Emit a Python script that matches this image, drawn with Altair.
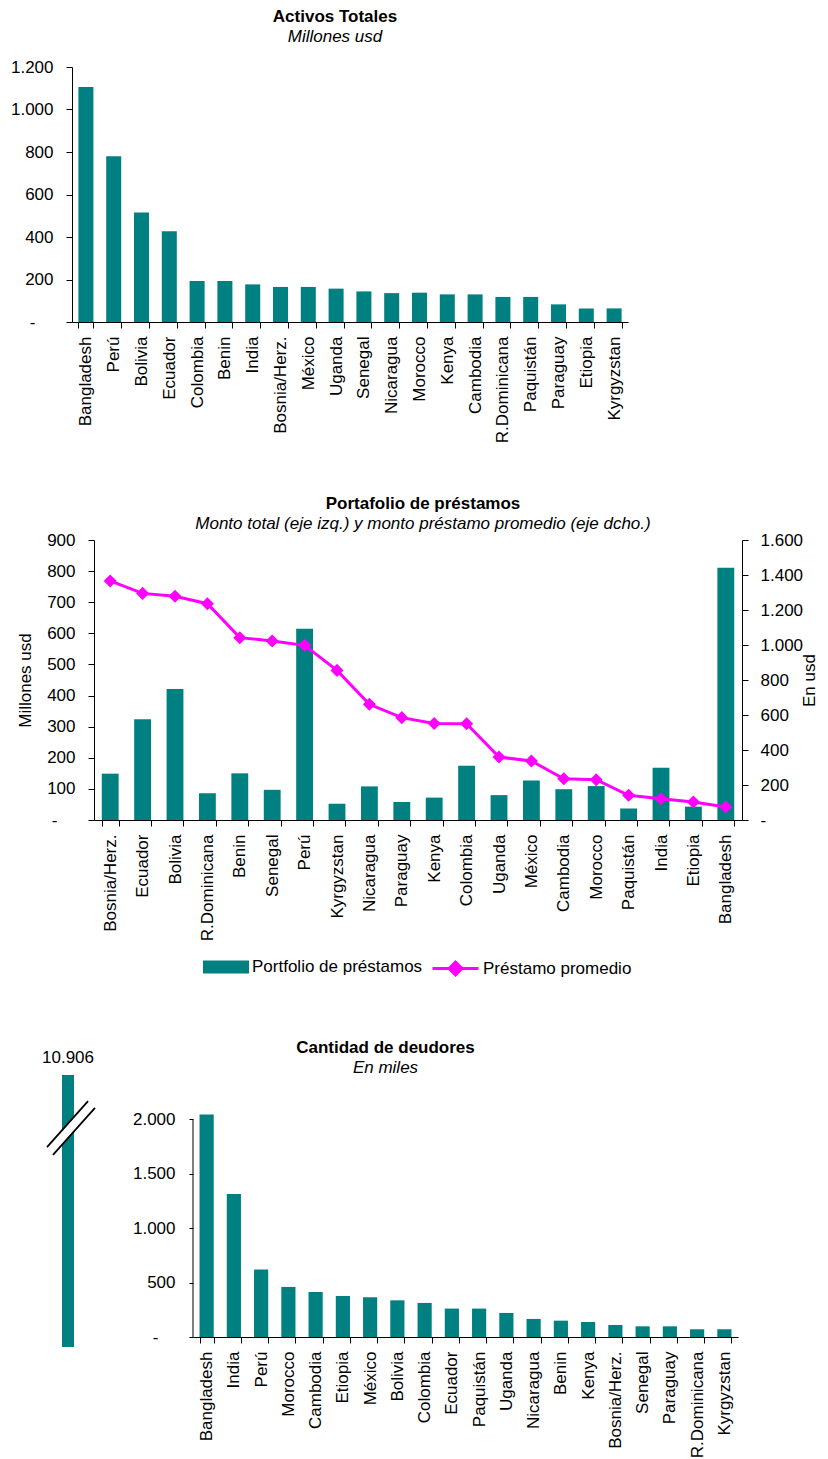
import altair as alt
import pandas as pd

FUENTE = "Liberation Sans"
TEAL = "#008080"
MAGENTA = "#FF00FF"

# ---------------- Activos Totales ----------------
activos_paises = ["Bangladesh", "Perú", "Bolivia", "Ecuador", "Colombia", "Benin", "India",
                  "Bosnia/Herz.", "México", "Uganda", "Senegal", "Nicaragua", "Morocco", "Kenya",
                  "Cambodia", "R.Dominicana", "Paquistán", "Paraguay", "Etiopia", "Kyrgyzstan"]
activos_valores = [1106, 780, 515, 427, 193, 193, 177, 165, 165, 157, 144, 136, 138, 130,
                   130, 118, 118, 83, 64, 64]
activos_ticks = [0, 200, 400, 600, 800, 1000, 1200]

# ---------------- Portafolio de préstamos ----------------
cartera_paises = ["Bosnia/Herz.", "Ecuador", "Bolivia", "R.Dominicana", "Benin", "Senegal", "Perú",
                  "Kyrgyzstan", "Nicaragua", "Paraguay", "Kenya", "Colombia", "Uganda", "México",
                  "Cambodia", "Morocco", "Paquistán", "India", "Etiopia", "Bangladesh"]
cartera_total = [149, 324, 421, 86, 150, 97, 615, 52, 108, 58, 72, 174, 80, 127, 99, 109, 37,
                 168, 43, 811]
prestamo_promedio = [1366, 1295, 1278, 1236, 1042, 1023, 998, 855, 661, 585, 552, 550, 360,
                     337, 236, 230, 141, 122, 103, 74]
cartera_ticks_izq = [0, 100, 200, 300, 400, 500, 600, 700, 800, 900]
cartera_ticks_der = [0, 200, 400, 600, 800, 1000, 1200, 1400, 1600]
serie_barras = "Portfolio de préstamos"
serie_linea = "Préstamo promedio"

# ---------------- Cantidad de deudores ----------------
deudores_paises = ["Bangladesh", "India", "Perú", "Morocco", "Cambodia", "Etiopia", "México",
                   "Bolivia", "Colombia", "Ecuador", "Paquistán", "Uganda", "Nicaragua", "Benin",
                   "Kenya", "Bosnia/Herz.", "Senegal", "Paraguay", "R.Dominicana", "Kyrgyzstan"]
deudores_valores = [2045, 1313, 620, 460, 414, 377, 365, 337, 313, 261, 261, 221, 166, 150,
                    138, 110, 98, 98, 71, 71]
deudores_ticks = [0, 500, 1000, 1500, 2000]
bangladesh_total = 10906

# break symbol (fractions of the small panel)
corte_x = [0.325, 0.667, 0.375, 0.725, 0.35, 0.696]
corte_y = [0.735, 0.904, 0.706, 0.879, 0.721, 0.892]
corte_linea = ["a", "a", "b", "b", "blanco", "blanco"]

ETIQUETA_Y = "datum.value == 0 ? '-' : replace(format(datum.value, ','), ',', '.')"


def pad_cero(normal, cero):
    return {"condition": {"test": "datum.value == 0", "value": cero}, "value": normal}


def eje_x():
    return alt.Axis(title=None, labelAngle=270, tickBand="extent", tickSize=6, labelPadding=8,
                    labelOverlap=False, labelLimit=250)


def titulo(t, s, dx, offset):
    return alt.TitleParams(t, subtitle=s, font=FUENTE, fontSize=17, fontWeight="bold",
                           color="black", subtitleFont=FUENTE, subtitleFontSize=17,
                           subtitleFontStyle="italic", subtitleColor="black", subtitlePadding=3,
                           anchor="middle", frame="group", dx=dx, offset=offset)


def espaciador(w, h):
    return alt.Chart(pd.DataFrame({"v": [0]})).mark_point(opacity=0, size=1).encode(
        x=alt.value(1), y=alt.value(100)).properties(width=w, height=h)


# ---------- chart 1 ----------
df_act = pd.DataFrame({"pais": activos_paises, "valor": activos_valores})
activos = alt.Chart(df_act).mark_bar(color=TEAL).encode(
    x=alt.X("pais:N", sort=None, scale=alt.Scale(paddingInner=0.46, paddingOuter=0.23),
            axis=eje_x()),
    y=alt.Y("valor:Q", scale=alt.Scale(domain=[0, 1200], nice=False),
            axis=alt.Axis(title=None, values=activos_ticks, labelExpr=ETIQUETA_Y,
                          tickSize=6, labelPadding=pad_cero(13, 31), minExtent=62,
                          maxExtent=62)),
).properties(width=556, height=255, title=titulo("Activos Totales", "Millones usd", -15, 12))
fila1 = alt.hconcat(espaciador(2, 255), activos, spacing=0)

# ---------- chart 2 ----------
df_car = pd.DataFrame({"pais": cartera_paises, "total": cartera_total,
                       "prom": prestamo_promedio, "sb": serie_barras, "sl": serie_linea})
base2 = alt.Chart(df_car).encode(
    x=alt.X("pais:N", sort=None, scale=alt.Scale(paddingInner=0.48, paddingOuter=0.24),
            axis=eje_x()))
barras2 = base2.mark_bar().encode(
    y=alt.Y("total:Q", scale=alt.Scale(domain=[0, 900], nice=False),
            axis=alt.Axis(title="Millones usd", values=cartera_ticks_izq,
                          labelExpr=ETIQUETA_Y, tickSize=6, labelPadding=pad_cero(13, 31),
                          minExtent=48, maxExtent=48, titlePadding=12)),
    fill=alt.Fill("sb:N", scale=alt.Scale(range=[TEAL]),
                  legend=alt.Legend(orient="none", legendX=109, legendY=404, title=None,
                                    symbolType="M-1,-0.28L1,-0.28L1,0.28L-1,0.28Z",
                                    symbolSize=2116, symbolStrokeWidth=0, labelOffset=3,
                                    labelLimit=300, padding=0)),
)
eje_der = alt.Axis(orient="right", title="En usd", titleAngle=270, titleBaseline="top",
                   values=cartera_ticks_der, labelExpr=ETIQUETA_Y, tickSize=6,
                   labelPadding=12, minExtent=59, maxExtent=59, titlePadding=0)
escala_der = alt.Scale(domain=[0, 1600], nice=False)
linea2 = base2.mark_line(strokeWidth=3).encode(
    y=alt.Y("prom:Q", scale=escala_der, axis=eje_der),
    stroke=alt.Stroke("sl:N", scale=alt.Scale(range=[MAGENTA]),
                      legend=alt.Legend(orient="none", legendX=337, legendY=404, title=None,
                                        symbolType=("M-1,0L1,0M-0.28,0L0,-0.28L0.28,0L0,0.28Z"
                                                    "M-0.19,0L0,-0.19L0.19,0L0,0.19Z"
                                                    "M-0.1,0L0,-0.1L0.1,0L0,0.1Z"),
                                        symbolSize=2116, symbolStrokeWidth=3,
                                        symbolFillColor=MAGENTA, labelOffset=3,
                                        labelLimit=300, padding=0)),
)
puntos2 = base2.mark_point(shape="diamond", filled=True, size=170, color=MAGENTA,
                           opacity=1).encode(y=alt.Y("prom:Q", scale=escala_der, axis=eje_der))
cartera = alt.layer(barras2, alt.layer(linea2, puntos2)).resolve_scale(
    y="independent").properties(
    width=648, height=280,
    title=titulo("Portafolio de préstamos",
                 "Monto total (eje izq.) y monto préstamo promedio (eje dcho.)", 5, -2))
fila2 = alt.hconcat(espaciador(8, 280), cartera, spacing=0).resolve_scale(
    fill="independent", stroke="independent")

# ---------- chart 3 ----------
df_bd = pd.DataFrame({"pais": [deudores_paises[0]], "valor": [bangladesh_total],
                      "etiqueta": [f"{bangladesh_total:,}".replace(",", ".")]})
barra_bd = alt.Chart(df_bd).mark_bar(color=TEAL, size=12).encode(
    x=alt.X("pais:N", axis=alt.Axis(title=None, labelAngle=270, ticks=False, domain=False,
                                    labelPadding=8)),
    y=alt.Y("valor:Q", scale=alt.Scale(domain=[0, bangladesh_total], nice=False), axis=None),
)
texto_bd = alt.Chart(df_bd).mark_text(baseline="alphabetic", dy=-12, font=FUENTE, fontSize=17,
                                      color="black").encode(
    x=alt.X("pais:N", axis=None),
    y=alt.Y("valor:Q", scale=alt.Scale(domain=[0, bangladesh_total], nice=False), axis=None),
    text="etiqueta:N")
df_corte = pd.DataFrame({"x": corte_x, "y": corte_y, "linea": corte_linea})
esc_cx = alt.Scale(domain=[0, 1], nice=False, zero=False)
esc_cy = alt.Scale(domain=[0, 1], nice=False, zero=False)
corte_blanco = alt.Chart(df_corte).transform_filter(alt.datum.linea == "blanco").mark_line(
    color="white", strokeWidth=9).encode(
    x=alt.X("x:Q", scale=esc_cx, axis=None), y=alt.Y("y:Q", scale=esc_cy, axis=None),
    detail="linea:N")
corte_negro = alt.Chart(df_corte).transform_filter(alt.datum.linea != "blanco").mark_line(
    color="black", strokeWidth=1.8).encode(
    x=alt.X("x:Q", scale=esc_cx, axis=None), y=alt.Y("y:Q", scale=esc_cy, axis=None),
    detail="linea:N")
panel_bd = alt.layer(alt.layer(barra_bd, texto_bd),
                     alt.layer(corte_blanco, corte_negro)).resolve_scale(
    x="independent", y="independent").properties(width=120, height=272)

df_deu = pd.DataFrame({"pais": deudores_paises, "valor": deudores_valores})
esc_deu = alt.Scale(domain=[0, 2407], nice=False)
eje_deu = alt.Axis(title=None, values=deudores_ticks, labelExpr=ETIQUETA_Y,
                   domain=False, tickSize=4, labelPadding=pad_cero(14, 31), minExtent=61,
                   maxExtent=61)
barras_deu = alt.Chart(df_deu).mark_bar(color=TEAL).encode(
    x=alt.X("pais:N", sort=None, scale=alt.Scale(paddingInner=0.48, paddingOuter=0.24),
            axis=eje_x()),
    y=alt.Y("valor:Q", scale=esc_deu, axis=eje_deu))
df_eje = pd.DataFrame({"desde": [min(deudores_ticks)], "hasta": [max(deudores_ticks)]})
linea_eje = alt.Chart(df_eje).mark_rule(color="black", strokeWidth=1).encode(
    x=alt.value(0), y=alt.Y("desde:Q", scale=esc_deu, axis=eje_deu), y2="hasta:Q")
deudores = alt.layer(barras_deu, linea_eje).properties(
    width=545, height=262, title=titulo("Cantidad de deudores", "En miles", -80, -2))
fila3 = alt.hconcat(panel_bd, deudores, spacing=4)

superior = alt.vconcat(fila1, fila2, spacing=52).resolve_scale(
    fill="independent", stroke="independent")
chart = alt.vconcat(superior, fila3, spacing=58).resolve_scale(
    fill="independent", stroke="independent").properties(
    padding=0
).configure_view(stroke=None).configure_axis(
    labelFont=FUENTE, labelFontSize=17, labelColor="black", titleFont=FUENTE,
    titleFontSize=17, titleFontWeight="normal", titleColor="black", domainColor="black",
    tickColor="black", grid=False
).configure_legend(
    labelFont=FUENTE, labelFontSize=17, labelColor="black"
)

chart.save("out.html", embed_options={"renderer": "svg", "actions": False})
